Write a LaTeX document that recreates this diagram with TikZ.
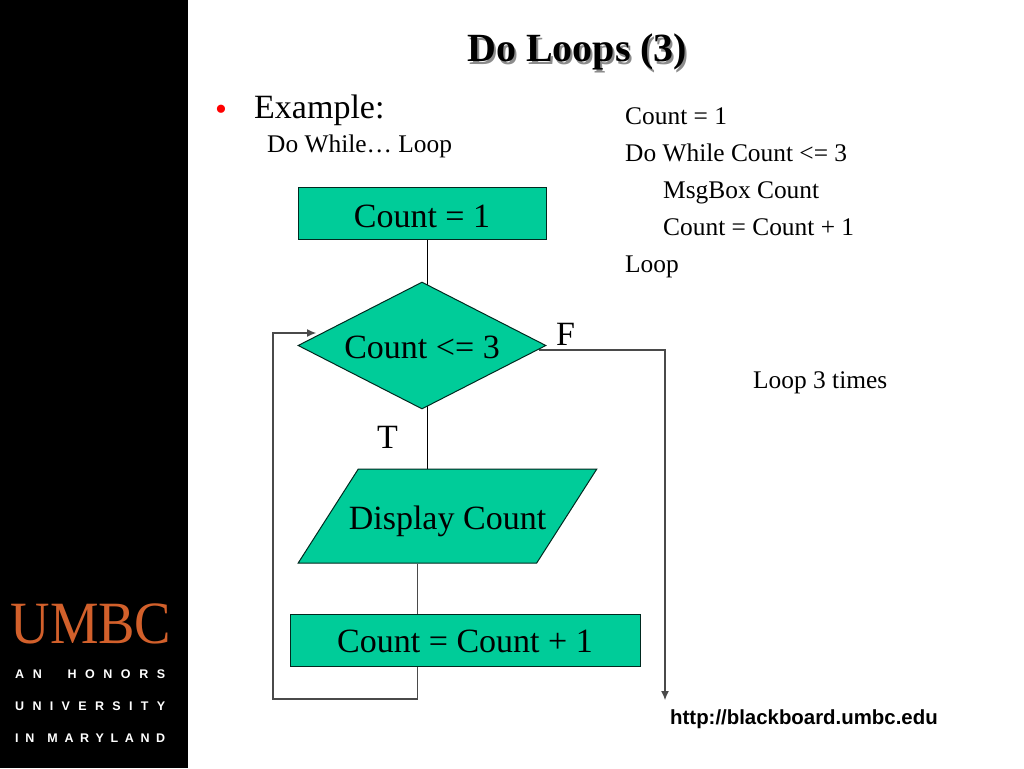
\documentclass[tikz,border=0pt]{standalone}
\usepackage{fontspec}
\setmainfont{Liberation Serif}
\newfontfamily\arialf{Liberation Sans}
\usetikzlibrary{shapes.geometric,backgrounds,arrows.meta}
\definecolor{flowgreen}{HTML}{00CC99}
\definecolor{umbcorange}{HTML}{D2602B}
\definecolor{linegrey}{HTML}{4A4A4A}
\newcommand{\fs}[1]{\fontsize{#1}{#1}\selectfont}
\tikzset{
  txt/.style={inner sep=0pt,anchor=base west,text=black},
  boxshape/.style={draw=black!80!flowgreen,line width=1pt,fill=flowgreen,inner sep=0pt,font=\fs{34}},
  conn/.style={draw=black,line width=1pt},
  loopline/.style={draw=linegrey,line width=1.1pt},
  tip/.style={-{Latex[length=9pt,width=8pt]}},
  logoline/.style={inner sep=0pt,anchor=base west,text=white,font=\arialf\bfseries\fs{12.5}},
}
\begin{document}
\begin{tikzpicture}[x=1pt,y=-1pt]
\useasboundingbox (0,0) rectangle (1024,768);
% logo
\node[inner sep=0pt,anchor=base,text=umbcorange,font=\fs{60},xscale=0.91,transform shape] (umbc) at (91,643) {UMBC};
\node[logoline] (l1) at (15,678) {\hbox to 150pt{A\hfil N\hfil\hfil\hfil H\hfil O\hfil N\hfil O\hfil R\hfil S}};
\node[logoline] (l2) at (15,710) {\hbox to 150pt{U\hfil N\hfil I\hfil V\hfil E\hfil R\hfil S\hfil I\hfil T\hfil Y}};
\node[logoline] (l3) at (15,742) {\hbox to 150pt{I\hfil N\hfil\hfil M\hfil A\hfil R\hfil Y\hfil L\hfil A\hfil N\hfil D}};
% title
\node[txt,text=black!45,font=\bfseries\fs{40}] (titleshadow) at (469,64) {Do Loops (3)};
\node[txt,font=\bfseries\fs{40}] (title) at (467,62) {Do Loops (3)};
\node[txt,text=red,font=\fs{34}] (bullet) at (215,120) {•};
\node[txt,font=\fs{34}] (example) at (254,118) {Example:};
\node[txt,font=\fs{25.4}] (dowhile) at (267,152) {Do While… Loop};
% code
\node[txt,font=\fs{25.4}] (c1) at (625,124) {Count = 1};
\node[txt,font=\fs{25.4}] (c2) at (625,161) {Do While Count <= 3};
\node[txt,font=\fs{25.4}] (c3) at (663,198) {MsgBox Count};
\node[txt,font=\fs{25.4}] (c4) at (663,235) {Count = Count + 1};
\node[txt,font=\fs{25.4}] (c5) at (625,272) {Loop};
\node[txt,font=\fs{25.4}] (times) at (753,388) {Loop 3 times};
% flow shapes
\node[boxshape,rectangle,minimum width=248pt,text height=40pt,text depth=12pt] (init) at (422,213) {Count = 1};
\node[boxshape,diamond,aspect=1.953,minimum width=248pt,minimum height=127pt,text height=25pt,text depth=0pt] (dec) at (422,345.5) {Count <= 3};
\node[boxshape,trapezium,trapezium left angle=57.4,trapezium right angle=122.6,inner xsep=-9.5pt,text height=60pt,text depth=34pt] (disp) at (447.5,516) {Display Count};
\node[boxshape,rectangle,minimum width=350pt,text height=38pt,text depth=14pt] (inc) at (465,640) {Count = Count + 1};
\node[txt,font=\fs{34}] (flabel) at (556,345) {F};
\node[txt,font=\fs{34}] (tlabel) at (377,448) {T};
\node[inner sep=0pt,anchor=base west,font=\arialf\bfseries\fs{20.4}] (url) at (670,724) {http://blackboard.umbc.edu};
% free connector ends
\coordinate (lb) at (273,699);
\coordinate (lt) at (273,333);
\coordinate (le) at (316,333);
\coordinate (fc) at (665,350);
\coordinate (fe) at (665,700);
% connectors and page ground, behind the shapes
\begin{scope}[on background layer]
\fill[white] (0,0) rectangle (1024,768);
\fill[black] (0,0) rectangle (188,768);
\draw[conn] ([xshift=5pt]init.south) -- ([xshift=5pt,yshift=-3pt]dec.north);
\draw[conn] ([xshift=5pt,yshift=4pt]dec.south) -- ([xshift=5pt]dec.south |- disp.top side);
\draw[loopline] (disp.bottom side) -- (disp.bottom side |- inc.north);
\draw[loopline,tip] (disp.bottom side |- inc.south) -- (disp.bottom side |- lb) -- (lb) -- (lt) -- (le);
\draw[loopline,tip] ([xshift=-8pt,yshift=-4.5pt]dec.east) -- (fc) -- (fe);
\end{scope}
\end{tikzpicture}
\end{document}
